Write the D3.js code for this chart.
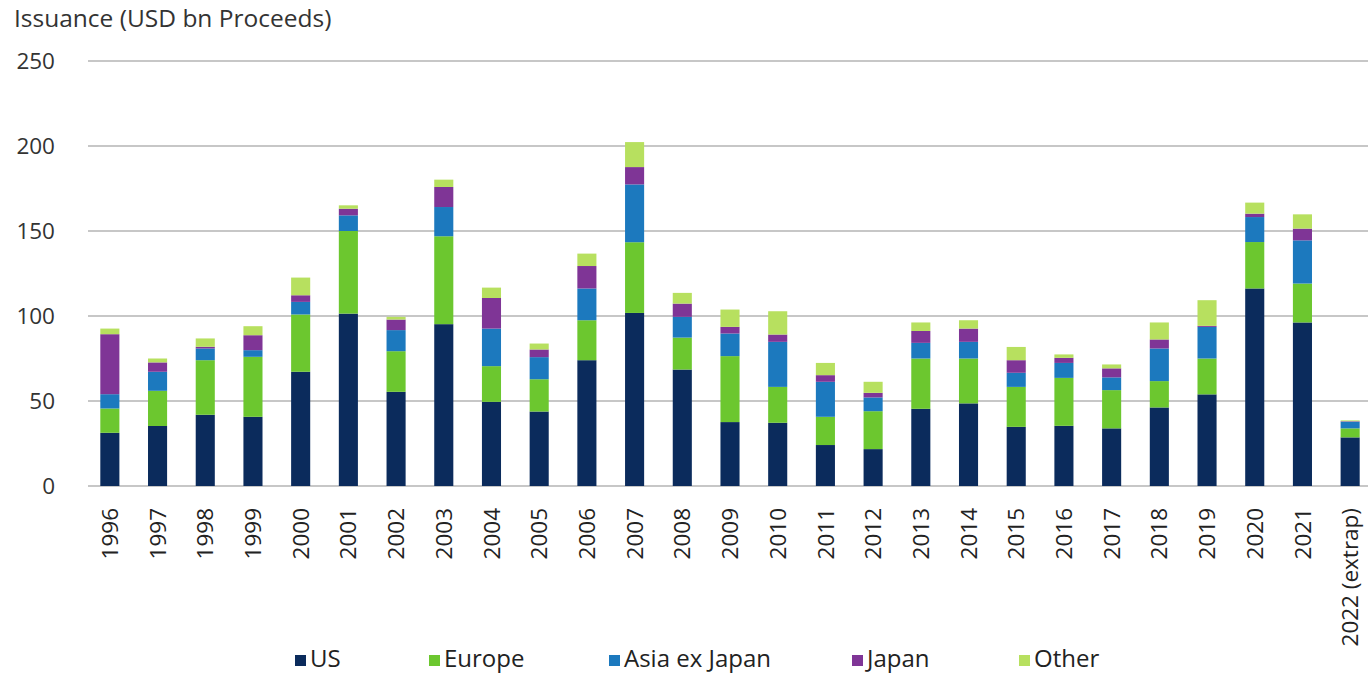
<!DOCTYPE html>
<html>
<head>
<meta charset="utf-8">
<script src="https://cdn.jsdelivr.net/npm/d3@7"></script>
<style>
  body { margin: 0; background: #fff; }
  svg { display: block; }
</style>
</head>
<body>
<div class="canvas"></div>
<script>
// issuance by region, USD bn proceeds
const years = ['1996','1997','1998','1999','2000','2001','2002','2003','2004','2005','2006','2007','2008',
  '2009','2010','2011','2012','2013','2014','2015','2016','2017','2018','2019','2020','2021','2022 (extrap)'];

const us          = [31.3,35.3,41.9,40.7,67.2,101.4,55.4,95.2,49.5,43.8,74.0,101.8,68.5,37.6,37.2,24.1,21.7,45.4,48.6,34.8,35.4,33.9,46.2,53.9,116.2,96.2,28.6];
const europe      = [14.3,20.7,32.1,35.3,33.7,48.6,23.9,51.7,21.0,19.0,23.5,41.6,18.8,38.8,21.1,16.6,22.3,29.6,26.4,23.5,28.2,22.5,15.5,21.1,27.3,22.9,5.3];
const asiaExJapan = [8.4,11.2,6.9,3.9,7.4,9.2,12.4,17.2,22.1,13.0,18.7,34.0,12.2,13.3,26.5,20.6,8.1,9.2,9.8,8.3,8.8,7.5,19.2,18.6,14.7,25.4,3.9];
const japan       = [35.3,5.5,1.0,8.8,3.9,3.9,6.2,11.8,18.0,4.5,13.2,10.2,7.8,3.9,4.3,3.9,2.7,7.0,7.8,7.4,3.0,5.3,5.3,0.6,2.0,6.9,0.3];
const other       = [3.3,2.3,4.9,5.3,10.4,2.0,1.6,4.3,6.1,3.5,7.3,14.7,6.3,10.2,13.7,7.2,6.5,5.0,4.9,7.8,2.0,2.3,10.0,15.1,6.5,8.4,0.5];

const seriesNames = ['US', 'Europe', 'Asia ex Japan', 'Japan', 'Other'];
const yTicks = [0, 50, 100, 150, 200, 250];

const colors = ['#0b2b5c', '#6cc72f', '#1c79be', '#7f3596', '#b7e05f'];

const width = 1368, height = 673;

const svg = d3.select('.canvas')
  .append('svg')
  .attr('width', width)
  .attr('height', height);

// build rows for the stack
const rows = years.map((yr, i) => ({
  year: yr,
  'US': us[i],
  'Europe': europe[i],
  'Asia ex Japan': asiaExJapan[i],
  'Japan': japan[i],
  'Other': other[i]
}));

const x = d3.scaleBand()
  .domain(years)
  .range([86, 1374])
  .paddingInner(0.6)
  .paddingOuter(0.3);

const y = d3.scaleLinear()
  .domain([0, 250])
  .range([486, 61]);

// gridlines
svg.append('g')
  .selectAll('line')
  .data(yTicks)
  .enter().append('line')
  .attr('x1', 88)
  .attr('x2', width)
  .attr('y1', d => y(d))
  .attr('y2', d => y(d))
  .attr('stroke', '#b4b4b4')
  .attr('stroke-width', 1.5);

// y labels
const yAxis = d3.axisLeft(y).tickValues(yTicks).tickSize(0).tickPadding(0);
svg.append('g')
  .attr('transform', 'translate(55,0)')
  .call(yAxis)
  .call(g => g.select('.domain').remove())
  .selectAll('text')
  .attr('font-family', 'Open Sans')
  .attr('font-size', 22.5)
  .attr('fill', '#333');

// stacked bars
const stack = d3.stack().keys(seriesNames);
const layers = stack(rows);

svg.append('g')
  .selectAll('g')
  .data(layers)
  .enter().append('g')
  .attr('fill', (d, i) => colors[i])
  .selectAll('rect')
  .data(d => d)
  .enter().append('rect')
  .attr('x', d => x(d.data.year))
  .attr('width', x.bandwidth())
  .attr('y', d => y(d[1]))
  .attr('height', d => y(d[0]) - y(d[1]));

// year labels, rotated
const xAxis = d3.axisBottom(x).tickSize(0).tickPadding(0);
svg.append('g')
  .attr('transform', 'translate(0,508)')
  .call(xAxis)
  .call(g => g.select('.domain').remove())
  .selectAll('text')
  .attr('font-family', 'Open Sans')
  .attr('font-size', 22.5)
  .attr('fill', '#222')
  .attr('text-anchor', 'end')
  .attr('x', 0)
  .attr('y', 0)
  .attr('dy', '0.36em')
  .attr('transform', 'rotate(-90)');

// title
svg.append('text')
  .attr('x', 14)
  .attr('y', 27)
  .attr('font-family', 'Open Sans')
  .attr('font-size', 24.5)
  .attr('fill', '#333')
  .text('Issuance (USD bn Proceeds)');

// legend
const legendX = [295, 429, 609, 852, 1019];
const legend = svg.append('g');
seriesNames.forEach((name, i) => {
  const item = legend.append('g').attr('transform', `translate(${legendX[i]},0)`);
  item.append('rect')
    .attr('x', 0)
    .attr('y', 655)
    .attr('width', 11)
    .attr('height', 11)
    .attr('fill', colors[i]);
  item.append('text')
    .attr('x', 15)
    .attr('y', 667)
    .attr('font-family', 'Open Sans')
    .attr('font-size', 24)
    .attr('fill', '#222')
    .text(name);
});
</script>
</body>
</html>
